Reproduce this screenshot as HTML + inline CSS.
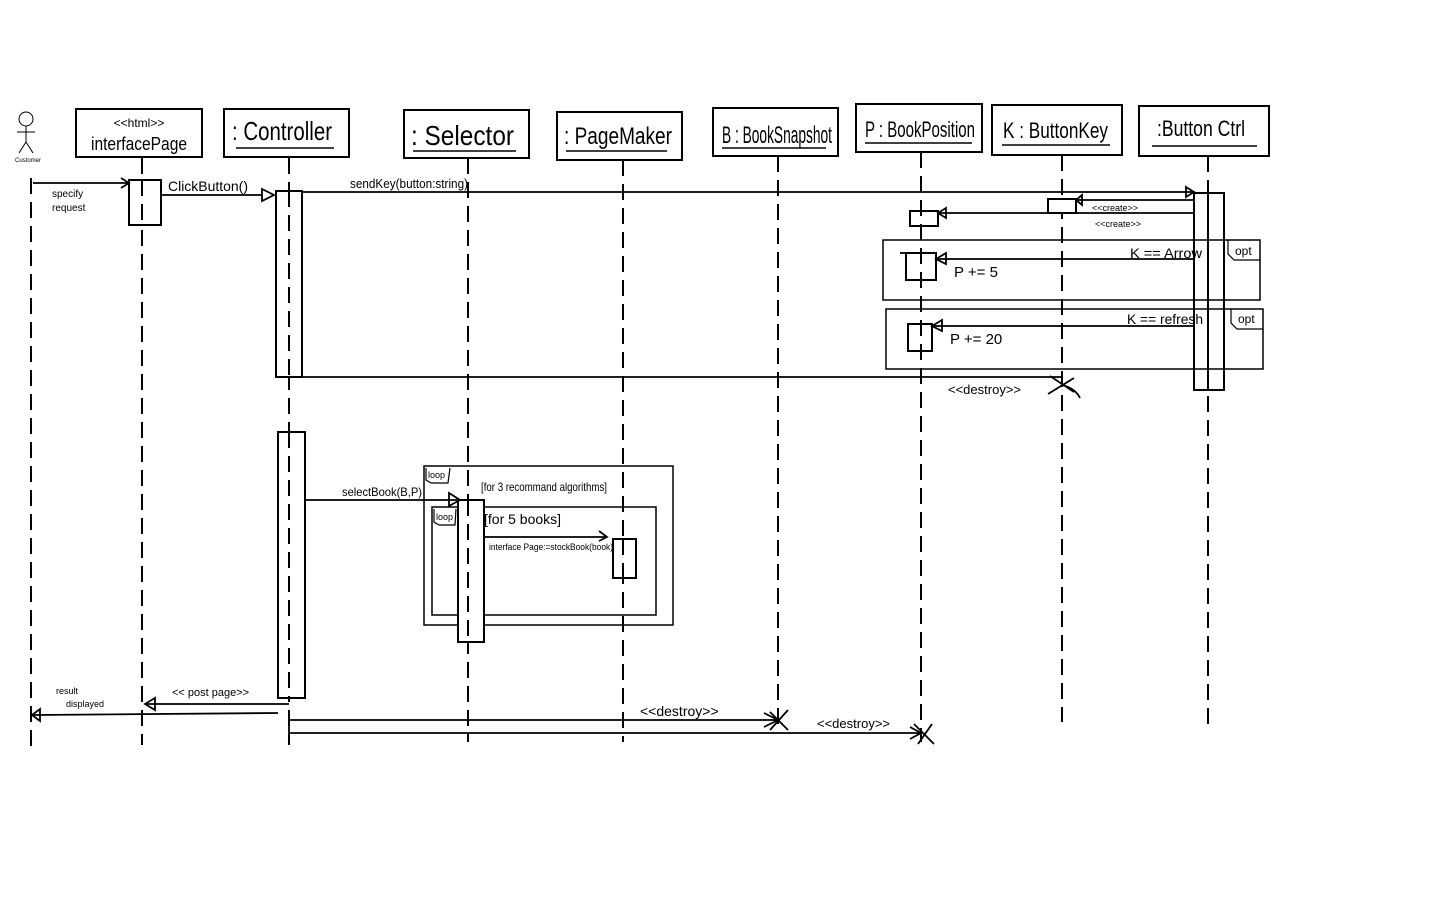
<!DOCTYPE html>
<html><head><meta charset="utf-8"><style>
html,body{margin:0;padding:0;background:#fff;width:1440px;height:900px;overflow:hidden}
svg text{font-family:"Liberation Sans",sans-serif;fill:#000}
</style></head><body>
<svg width="1440" height="900" viewBox="0 0 1440 900" xmlns="http://www.w3.org/2000/svg">
<g stroke="#000" fill="none" stroke-width="2">
<!-- actor -->
<circle cx="26" cy="119" r="7" stroke-width="1"/>
<path d="M26 126 V142 M17 132 H35 M26 142 L19 153 M26 142 L33 153" stroke-width="1"/>
<!-- lifelines -->
<g stroke-dasharray="16,8" stroke-width="2">
<path d="M31 178 V748"/><path d="M142 158 V745"/><path d="M289 158 V745"/>
<path d="M468 158 V742"/><path d="M623 160 V742"/><path d="M778 156 V730"/>
<path d="M921 152 V742"/><path d="M1062 155 V722"/><path d="M1208 156 V724"/>
</g>
<!-- heads -->
<rect x="76" y="109" width="126" height="48"/>
<rect x="224" y="109" width="125" height="48"/>
<rect x="404" y="110" width="125" height="48"/>
<rect x="557" y="112" width="125" height="48"/>
<rect x="713" y="108" width="125" height="48"/>
<rect x="856" y="104" width="126" height="48"/>
<rect x="992" y="105" width="130" height="50"/>
<rect x="1139" y="106" width="130" height="50"/>
<path d="M236 148 H334 M413 151 H516 M566 151 H667 M722 148 H826 M865 143 H972 M1002 145 H1110 M1152 146 H1257" stroke-width="1.5"/>
<!-- frames -->
<rect x="883" y="240" width="377" height="60" stroke-width="1.5"/>
<rect x="886" y="309" width="377" height="60" stroke-width="1.5"/>
<path d="M1228 240 V254 L1234 260 H1260" stroke-width="1.2"/>
<path d="M1231 309 V323 L1237 329 H1263" stroke-width="1.2"/>
<rect x="424" y="466" width="249" height="159" stroke-width="1.5"/>
<rect x="432" y="507" width="224" height="108" stroke-width="1.5"/>
<path d="M426 468 V480 L431 483 H448 L450 468" stroke-width="1.2"/>
<path d="M434 509 V522 L439 525 H455 L456 509" stroke-width="1.2"/>
<!-- activations -->
<g fill="#fff">
<rect x="129" y="180" width="32" height="45"/>
<rect x="276" y="191" width="26" height="186"/>
<rect x="278" y="432" width="27" height="266"/>
<rect x="458" y="500" width="26" height="142"/>
<rect x="613" y="539" width="23" height="39"/>
<rect x="1194" y="193" width="30" height="197" fill="none"/>
<rect x="1048" y="199" width="28" height="14"/>
<rect x="910" y="211" width="28" height="15" fill="none"/>
<rect x="906" y="253" width="30" height="27" fill="none"/>
<rect x="908" y="324" width="24" height="27" fill="none"/>
</g>
<!-- re-draw dashed inside activations -->
<g stroke-dasharray="16,8"><path d="M142 180 V225 M289 191 V377 M289 432 V698 M468 500 V642 M623 539 V578 M1208 193 V390"/></g>
<!-- messages -->
<g stroke-width="1.8">
<path d="M33 183 H129"/><path d="M121 178 L129 183 L121 188"/>
<path d="M161 195 H262"/><path d="M262 189 L274 195 L262 201 Z"/>
<path d="M302 192 H1194"/><path d="M1186 187 L1194 192 L1186 197 Z"/>
<path d="M1194 200 H1076"/><path d="M1082 195 L1076 200 L1082 205 Z"/>
<path d="M1194 213 H938"/><path d="M946 208 L938 213 L946 218 Z"/>
<path d="M1194 259 H936"/><path d="M946 253 L936 259 L946 264 Z"/><path d="M900 253 H915"/>
<path d="M1194 326 H932"/><path d="M942 320 L932 326 L942 331 Z"/>
<path d="M302 377 H1062"/><path d="M1050 376 L1074 392 M1074 378 L1048 394 M1062 385 Q1075 388 1080 398"/>
<path d="M305 500 H458"/><path d="M449 493 L460 500 L449 506 Z"/>
<path d="M484 537 H607"/><path d="M599 531 L607 537 L599 541"/>
<path d="M289 704 H145"/><path d="M155 698 L145 704 L155 710 Z"/>
<path d="M278 713 L34 715"/><path d="M40 709 L32 715 L40 721 Z"/>
<path d="M289 720 H778 M764 713 L778 720 L764 727 M770 712 L788 730 M788 710 L770 730"/>
<path d="M289 733 H921 M910 727 L921 733 L910 739 M914 724 L934 744 M932 724 L918 744"/>
<path d="M289 717 V743"/>
</g>
</g>
<!-- text -->
<text x="15" y="162" font-size="6">Customer</text>
<text x="139" y="127" font-size="12" text-anchor="middle">&lt;&lt;html&gt;&gt;</text>
<text x="139" y="150" font-size="18" text-anchor="middle" textLength="96" lengthAdjust="spacingAndGlyphs">interfacePage</text>
<text x="232" y="140" font-size="26" textLength="100" lengthAdjust="spacingAndGlyphs">: Controller</text>
<text x="411" y="145" font-size="28" textLength="103" lengthAdjust="spacingAndGlyphs">: Selector</text>
<text x="564" y="144" font-size="24" textLength="108" lengthAdjust="spacingAndGlyphs">: PageMaker</text>
<text x="722" y="143" font-size="24" textLength="110" lengthAdjust="spacingAndGlyphs">B : BookSnapshot</text>
<text x="865" y="137" font-size="22" textLength="110" lengthAdjust="spacingAndGlyphs">P : BookPosition</text>
<text x="1003" y="138" font-size="22" textLength="105" lengthAdjust="spacingAndGlyphs">K : ButtonKey</text>
<text x="1157" y="136" font-size="22" textLength="88" lengthAdjust="spacingAndGlyphs">:Button Ctrl</text>
<text x="52" y="197" font-size="10">specify</text>
<text x="52" y="211" font-size="10">request</text>
<text x="168" y="191" font-size="14" textLength="80" lengthAdjust="spacingAndGlyphs">ClickButton()</text>
<text x="350" y="188" font-size="13" textLength="118" lengthAdjust="spacingAndGlyphs">sendKey(button:string)</text>
<text x="1092" y="211" font-size="9">&lt;&lt;create&gt;&gt;</text>
<text x="1095" y="227" font-size="9">&lt;&lt;create&gt;&gt;</text>
<text x="1130" y="258" font-size="14" textLength="72" lengthAdjust="spacingAndGlyphs">K == Arrow</text>
<text x="1127" y="324" font-size="14" textLength="76" lengthAdjust="spacingAndGlyphs">K == refresh</text>
<text x="1235" y="255" font-size="12">opt</text>
<text x="1238" y="323" font-size="12">opt</text>
<text x="954" y="277" font-size="15">P += 5</text>
<text x="950" y="344" font-size="15">P += 20</text>
<text x="948" y="394" font-size="13">&lt;&lt;destroy&gt;&gt;</text>
<text x="342" y="496" font-size="12" textLength="80" lengthAdjust="spacingAndGlyphs">selectBook(B,P)</text>
<text x="428" y="478" font-size="9">loop</text>
<text x="436" y="520" font-size="9">loop</text>
<text x="481" y="491" font-size="12" textLength="126" lengthAdjust="spacingAndGlyphs">[for 3 recommand algorithms]</text>
<text x="484" y="524" font-size="14">[for 5 books]</text>
<text x="489" y="550" font-size="9" textLength="124" lengthAdjust="spacingAndGlyphs">interface Page:=stockBook(book)</text>
<text x="172" y="696" font-size="11">&lt;&lt; post page&gt;&gt;</text>
<text x="56" y="694" font-size="9">result</text>
<text x="66" y="707" font-size="9">displayed</text>
<text x="640" y="716" font-size="14">&lt;&lt;destroy&gt;&gt;</text>
<text x="817" y="728" font-size="13">&lt;&lt;destroy&gt;&gt;</text>
</svg>
</body></html>
